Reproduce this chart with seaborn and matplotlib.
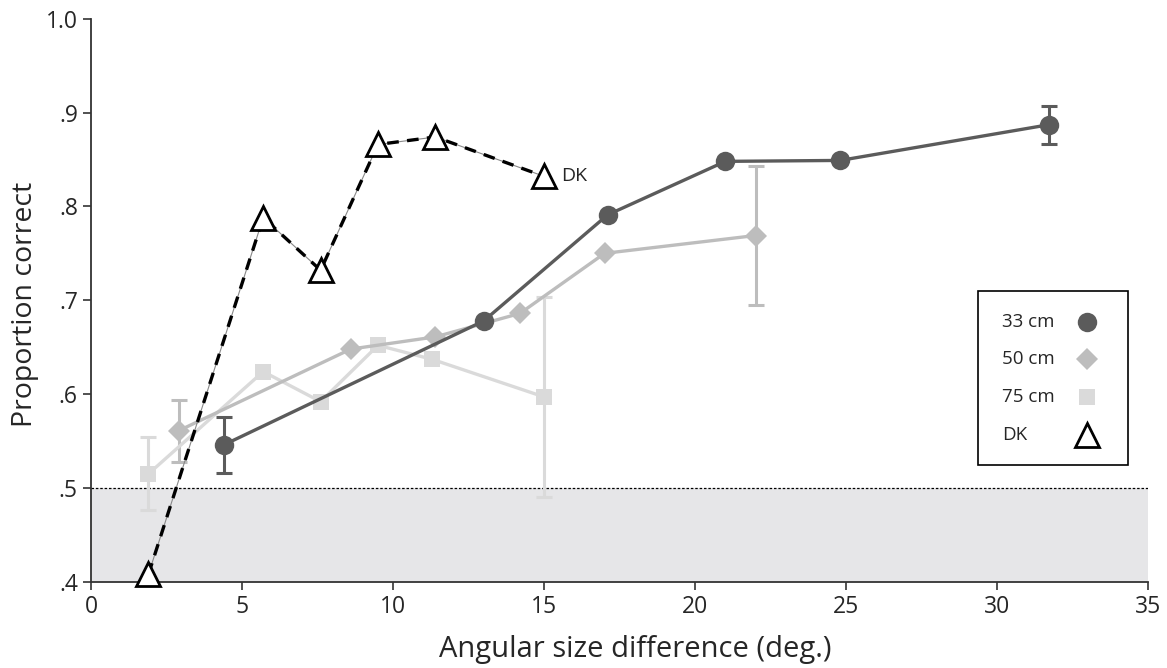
import numpy as np
import pandas as pd
import seaborn as sns
import matplotlib.pyplot as plt
from matplotlib.patches import Rectangle

# values
x_33 = [4.4, 13.0, 17.1, 21.0, 24.8, 31.7]
y_33 = [0.546, 0.678, 0.791, 0.848, 0.849, 0.887]
err_33_x = [4.4, 31.7]
err_33_y = [0.546, 0.887]
err_33_e = [0.030, 0.020]

x_50 = [2.9, 8.6, 11.4, 14.2, 17.0, 22.0]
y_50 = [0.561, 0.648, 0.661, 0.686, 0.750, 0.769]
err_50_x = [2.9, 22.0]
err_50_y = [0.561, 0.769]
err_50_e = [0.033, 0.074]

x_75 = [1.9, 5.7, 7.6, 9.5, 11.3, 15.0]
y_75 = [0.515, 0.624, 0.592, 0.652, 0.637, 0.597]
err_75_x = [1.9, 15.0]
err_75_y = [0.515, 0.597]
err_75_e = [0.039, 0.107]

x_dk = [1.9, 5.7, 7.6, 9.5, 11.4, 15.0]
y_dk = [0.408, 0.788, 0.732, 0.866, 0.874, 0.832]

x_ticks = [0, 5, 10, 15, 20, 25, 30, 35]
y_ticks = [0.4, 0.5, 0.6, 0.7, 0.8, 0.9, 1.0]
y_tick_labels = ['.4', '.5', '.6', '.7', '.8', '.9', '1.0']

legend_labels = ['33 cm', '50 cm', '75 cm', 'DK']

c33 = '#5b5b5b'
c50 = '#bdbdbd'
c75 = '#dadada'

sns.set_style('ticks')
plt.rcParams['font.family'] = ['Open Sans', 'DejaVu Sans']

fig = plt.figure(figsize=(11.67, 6.68), dpi=100)
ax = fig.add_axes([0.078, 0.129, 0.906, 0.843])

# chance region
ax.axhspan(0.4, 0.5, color='#e6e6e8', lw=0, zorder=0)
ax.axhline(0.5, color='black', lw=0.9, ls=(0, (2, 1.5)), zorder=1)

# error bars first (behind the markers)
ax.errorbar(err_75_x, err_75_y, yerr=err_75_e, fmt='none', ecolor=c75,
            elinewidth=2.2, capsize=6, capthick=2.2, zorder=2)
ax.errorbar(err_50_x, err_50_y, yerr=err_50_e, fmt='none', ecolor=c50,
            elinewidth=2.2, capsize=6, capthick=2.2, zorder=2)
ax.errorbar(err_33_x, err_33_y, yerr=err_33_e, fmt='none', ecolor=c33,
            elinewidth=2.2, capsize=6, capthick=2.2, zorder=2)

df75 = pd.DataFrame({'x': x_75, 'y': y_75})
df50 = pd.DataFrame({'x': x_50, 'y': y_50})
df33 = pd.DataFrame({'x': x_33, 'y': y_33})
dfdk = pd.DataFrame({'x': x_dk, 'y': y_dk})

sns.lineplot(data=df75, x='x', y='y', ax=ax, color=c75, lw=2.4, marker='s',
             markersize=12, markeredgewidth=0, zorder=3)
sns.lineplot(data=df50, x='x', y='y', ax=ax, color=c50, lw=2.4, marker='D',
             markersize=11, markeredgewidth=0, zorder=4)
sns.lineplot(data=df33, x='x', y='y', ax=ax, color=c33, lw=2.4, marker='o',
             markersize=14, markeredgewidth=0, zorder=5)

# DK: thin grey connector under a heavy black dash
ax.plot(x_dk, y_dk, color='#888888', lw=0.8, zorder=6)
sns.lineplot(data=dfdk, x='x', y='y', ax=ax, color='black', lw=2.4,
             ls=(0, (3.5, 2.5)), zorder=7)
ax.plot(x_dk, y_dk, ls='none', marker='^', markersize=17, mfc='white',
        mec='black', mew=2, zorder=8, clip_on=False)
ax.text(x_dk[-1] + 0.55, y_dk[-1], 'DK', fontsize=14, va='center')

ax.set_xlim(0, 35)
ax.set_ylim(0.4, 1.0)
ax.set_xticks(x_ticks)
ax.set_yticks(y_ticks)
ax.set_yticklabels(y_tick_labels)
ax.tick_params(labelsize=16.5, length=6, width=1.2, direction='out', color='#333333')
ax.set_xlabel('Angular size difference (deg.)', fontsize=21, va='center')
ax.set_ylabel('Proportion correct', fontsize=20.5, va='center')
ax.xaxis.set_label_coords(0.515, -0.121)
ax.yaxis.set_label_coords(-0.0624, 0.492)
sns.despine(ax=ax)
for s in ['left', 'bottom']:
    ax.spines[s].set_linewidth(1.3)
    ax.spines[s].set_color('#333333')

# legend box: labels left-aligned, markers in a column on the right
ax.add_patch(Rectangle((0.839, 0.208), 0.142, 0.309, transform=ax.transAxes,
                       fill=True, facecolor='white', edgecolor='black', lw=1.2,
                       zorder=9, clip_on=False))
leg_y = [0.462, 0.396, 0.329, 0.261]
leg_styles = [
    dict(marker='o', markersize=14, color=c33, mew=0),
    dict(marker='D', markersize=11, color=c50, mew=0),
    dict(marker='s', markersize=12, color=c75, mew=0),
    dict(marker='^', markersize=17, mfc='white', mec='black', mew=2),
]
for lab, yy, st in zip(legend_labels, leg_y, leg_styles):
    ax.text(0.862, yy, lab, transform=ax.transAxes, fontsize=13.5,
            va='center', ha='left', zorder=10)
    ax.plot([0.942], [yy], ls='none', transform=ax.transAxes, zorder=10,
            clip_on=False, **st)

fig.savefig('out.png', dpi=100)
